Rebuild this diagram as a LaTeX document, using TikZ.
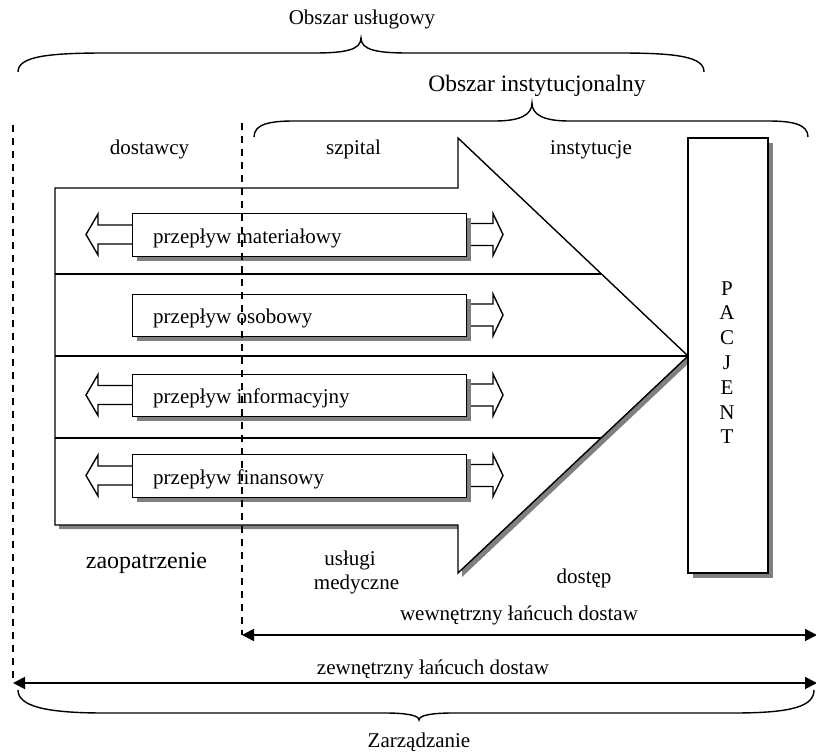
\documentclass[tikz,border=0pt]{standalone}
\usepackage{fontspec}
\setmainfont{Liberation Serif}
\usetikzlibrary{arrows.meta}
\begin{document}
\begin{tikzpicture}[x=1pt,y=-1pt,
  every node/.style={inner sep=0pt},
  lbl/.style={font=\fontsize{21}{24}\selectfont, anchor=base},
  lblbig/.style={font=\fontsize{23.5}{28}\selectfont, anchor=base},
  shapeline/.style={draw=black, line width=1.4pt, line join=miter},
  shade/.style={fill=gray},
  flowbox/.style={draw=black, fill=white, line width=1.4pt, minimum width=334pt, minimum height=42.5pt, anchor=north west},
  bracepath/.style={draw=black, line width=1.4pt},
  dashline/.style={draw=black, line width=1.3pt, dash pattern=on 7pt off 6pt},
  chain/.style={draw=black, line width=1.8pt, {Triangle[length=12pt,width=12pt]}-{Triangle[length=12pt,width=12pt]}},
  hollow/.style={draw=black, line width=1.4pt, line join=miter}
]
\useasboundingbox (0,0) rectangle (816,754);
\fill[white] (0,0) rectangle (816,754);

% braces
\draw[bracepath] (18,72) .. controls (18,57) and (45,53) .. (105,53) -- (314,53) .. controls (345,53) and (361,50) .. (361,38) .. controls (361,50) and (377,53) .. (408,53) -- (619,53) .. controls (679,53) and (704,57) .. (704,72);
\draw[bracepath] (254,137) .. controls (254,124) and (270,121) .. (294,121) -- (495,121) .. controls (520,121) and (532,115) .. (532,103) .. controls (532,115) and (544,121) .. (569,121) -- (768,121) .. controls (792,121) and (808,124) .. (808,137);
\draw[bracepath] (18,690) .. controls (18,706) and (45,713) .. (104,713) -- (385,713) .. controls (405,713) and (419,715) .. (419,720) .. controls (419,715) and (433,713) .. (453,713) -- (734,713) .. controls (793,713) and (814,706) .. (814,690);

% big arrow
\coordinate (tip) at (688,356);
\fill[shade, shift={(4,4)}] (55,188) -- (458,188) -- (458,138) -- (688,356) -- (458,573) -- (458,525) -- (55,525) -- cycle;
\filldraw[shapeline, fill=white] (55,188) -- (458,188) -- (458,138) -- (tip) -- (458,573) -- (458,525) -- (55,525) -- cycle;
\draw[shapeline] (55,274) -- (601.5,274);
\draw[shapeline] (55,356) -- (tip);
\draw[shapeline] (55,438) -- (601.1,438);

% patient
\fill[shade] (693,143) rectangle (773,578);
\node[draw=black, fill=white, line width=1.4pt, minimum width=80pt, minimum height=435pt] (pac) at (728,355.5) {};
\foreach \l [count=\i] in {P,A,C,J,E,N,T}
  \node[lbl, name=p\i] at (727,{295+(\i-1)*24.8}) {\l};

% flow boxes: arrows
\foreach \yy/\lft in {213/1,293.5/0,373.5/1,454/1}{
  \coordinate (cL) at (132,{\yy+21.5});
  \coordinate (cR) at (466,{\yy+21.5});
  \ifnum\lft=1
    \draw[hollow] (cL) ++(0,-9.5) -- ++(-34,0) -- ++(0,-11) -- ++(-12,20.5) -- ++(12,20.5) -- ++(0,-11) -- ++(34,0);
  \fi
  \draw[hollow] (cR) ++(0,-11) -- ++(27,0) -- ++(0,-10) -- ++(10,21) -- ++(-10,21) -- ++(0,-10) -- ++(-27,0);
  \fill[shade] (137,{\yy+5}) rectangle (471,{\yy+47.5});
}
\node[flowbox] (b1) at (132,213) {};
\node[flowbox] (b2) at (132,293.5) {};
\node[flowbox] (b3) at (132,373.5) {};
\node[flowbox] (b4) at (132,454) {};
\node[lbl, anchor=base west] (f1) at (153,243) {przepływ materiałowy};
\node[lbl, anchor=base west] (f2) at (153,323.5) {przepływ osobowy};
\node[lbl, anchor=base west] (f3) at (153,403.5) {przepływ informacyjny};
\node[lbl, anchor=base west] (f4) at (153,484) {przepływ finansowy};

% texts
\node[lbl] (t1) at (362,25) {Obszar usługowy};
\node[lblbig] (t2) at (537,92) {Obszar instytucjonalny};
\node[lbl] (t3) at (149.5,155) {dostawcy};
\node[lbl] (t4) at (353.5,155) {szpital};
\node[lbl] (t5) at (591,155) {instytucje};
\node[lblbig, font=\fontsize{24}{28}\selectfont] (t6) at (146.5,568) {zaopatrzenie};
\node[lbl] (t7) at (350,565) {usługi};
\node[lbl] (t8) at (356.5,589) {medyczne};
\node[lbl] (t9) at (584,583) {dostęp};
\node[lbl] (t10) at (519,620) {wewnętrzny łańcuch dostaw};
\node[lbl] (t11) at (433,674) {zewnętrzny łańcuch dostaw};
\node[lbl] (t12) at (419,747) {Zarządzanie};

% chain arrows
\coordinate (inL) at (242,635);
\coordinate (inR) at (817,635);
\coordinate (exL) at (13,683);
\coordinate (exR) at (817,683);
\draw[chain] (inL) -- (inR);
\draw[chain] (exL) -- (exR);

% dashed lines
\coordinate (d1a) at (13,125);
\coordinate (d1b) at (13,683);
\coordinate (d2a) at (242,123);
\coordinate (d2b) at (242,635);
\draw[dashline] (d1a) -- (d1b);
\draw[dashline] (d2a) -- (d2b);
\end{tikzpicture}
\end{document}
